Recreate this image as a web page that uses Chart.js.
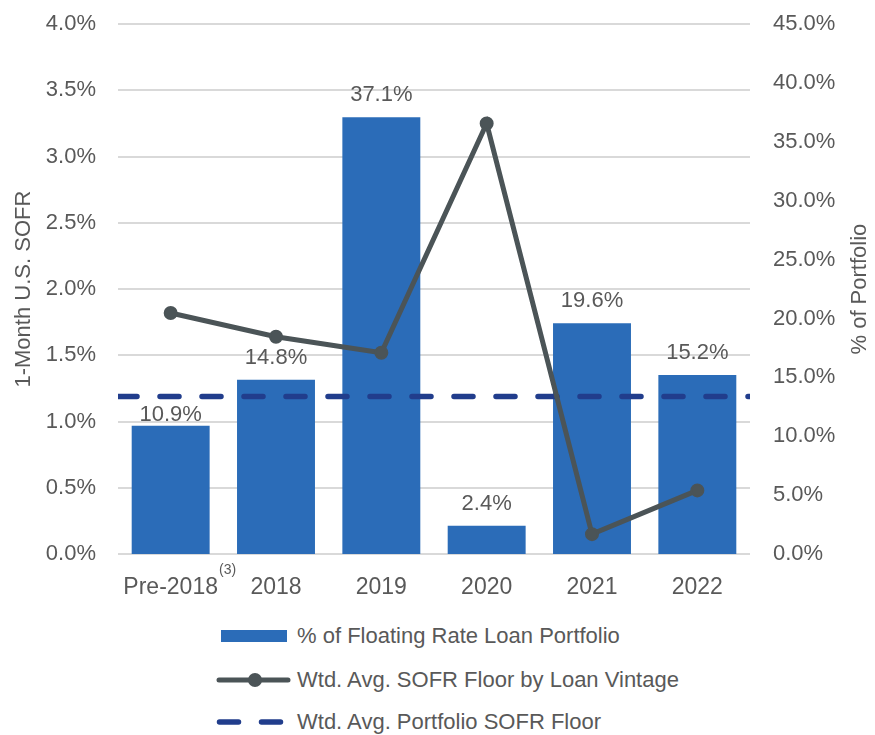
<!DOCTYPE html>
<html>
<head>
<meta charset="utf-8">
<script src="https://cdn.jsdelivr.net/npm/chart.js@4.4.1/dist/chart.umd.min.js"></script>
<style>
  body { margin: 0; background: #fff; overflow: hidden; font-family: "Liberation Sans", Arial, sans-serif; }
  .wrap { position: relative; width: 875px; height: 735px; overflow: hidden; }
  #myChart { position: absolute; left: 0; top: -12px; }
  .legend { position: absolute; left: 0; top: 0; width: 875px; color: #595959; font-size: 22px; }
  .legend .row { position: absolute; left: 215px; height: 30px; display: flex; align-items: center; white-space: nowrap; }
  .legend svg { margin-right: 6px; }
</style>
</head>
<body>
<div class="wrap">
  <canvas id="myChart" width="875" height="622"></canvas>
  <div class="legend">
    <div class="row" style="top:621px;">
      <svg width="76" height="30"><rect x="6" y="9" width="66" height="12" fill="#2b6cb8"/></svg>
      <span>% of Floating Rate Loan Portfolio</span>
    </div>
    <div class="row" style="top:665px;">
      <svg width="76" height="30"><line x1="4" y1="15" x2="73" y2="15" stroke="#4b5457" stroke-width="5" stroke-linecap="round"/><circle cx="40" cy="15" r="7" fill="#4b5457"/></svg>
      <span>Wtd. Avg. SOFR Floor by Loan Vintage</span>
    </div>
    <div class="row" style="top:707px;">
      <svg width="76" height="30"><line x1="4.5" y1="15" x2="73" y2="15" stroke="#213d8c" stroke-width="5.5" stroke-linecap="round" stroke-dasharray="19 23"/></svg>
      <span>Wtd. Avg. Portfolio SOFR Floor</span>
    </div>
  </div>
</div>
<script>
// 카테고리 (대출 빈티지)
var vintages = ["Pre-2018", "2018", "2019", "2020", "2021", "2022"];
// 변동금리 대출 포트폴리오 비중 (%)
var portfolioShare = [10.9, 14.8, 37.1, 2.4, 19.6, 15.2];
// 빈티지별 가중평균 SOFR floor (%)
var sofrFloor = [1.82, 1.64, 1.52, 3.25, 0.15, 0.48];
// 포트폴리오 전체 가중평균 SOFR floor (%)
var portfolioFloor = 1.19;

var leftTicks = [0, 0.5, 1, 1.5, 2, 2.5, 3, 3.5, 4];
var rightTicks = [0, 5, 10, 15, 20, 25, 30, 35, 40, 45];

var labelGap = [5, 16, 16, 16, 16, 16]; // 막대 라벨 간격
var grayText = "#595959";
var fontName = "'Liberation Sans', Arial, sans-serif";

var extras = {
  id: "extras",
  afterDatasetsDraw: function (chart) {
    var ctx = chart.ctx;
    var area = chart.chartArea;
    ctx.save();
    ctx.fillStyle = grayText;

    // 막대 위 값 라벨
    ctx.font = "22px " + fontName;
    ctx.textAlign = "center";
    ctx.textBaseline = "alphabetic";
    chart.getDatasetMeta(0).data.forEach(function (bar, i) {
      ctx.fillText(portfolioShare[i].toFixed(1) + "%", bar.x, bar.y - labelGap[i]);
    });

    // Pre-2018 위첨자 (3)
    var xs = chart.scales.x;
    ctx.font = "23px " + fontName;
    var w = ctx.measureText(vintages[0]).width;
    ctx.font = "14px " + fontName;
    ctx.textAlign = "left";
    ctx.textBaseline = "top";
    ctx.fillText("(3)", xs.getPixelForValue(0) + w / 2 + 1, area.bottom + 9);

    // 오른쪽 축 제목 (아래에서 위로)
    ctx.font = "22px " + fontName;
    ctx.textAlign = "center";
    ctx.textBaseline = "middle";
    ctx.translate(860, (area.top + area.bottom) / 2);
    ctx.rotate(-Math.PI / 2);
    ctx.fillText("% of Portfolio", 0, 0);
    ctx.restore();
  },
};

var ctx = document.getElementById("myChart").getContext("2d");

var myChart = new Chart(ctx, {
  data: {
    labels: vintages,
    datasets: [
      {
        type: "bar",
        label: "% of Floating Rate Loan Portfolio",
        data: portfolioShare,
        backgroundColor: "#2b6cb8",
        yAxisID: "yR",
        xAxisID: "x",
        grouped: false,
        categoryPercentage: 1,
        barPercentage: 0.74,
        order: 3,
      },
      {
        type: "line",
        label: "Wtd. Avg. Portfolio SOFR Floor",
        data: [
          { x: -0.5, y: portfolioFloor },
          { x: vintages.length - 0.5, y: portfolioFloor },
        ],
        borderColor: "#213d8c",
        borderWidth: 5.5,
        borderDash: [19, 23],
        borderCapStyle: "round",
        pointRadius: 0,
        yAxisID: "yL",
        xAxisID: "xd",
        order: 2,
      },
      {
        type: "line",
        label: "Wtd. Avg. SOFR Floor by Loan Vintage",
        data: sofrFloor,
        borderColor: "#4b5457",
        backgroundColor: "#4b5457",
        borderWidth: 5,
        pointRadius: 6,
        pointBorderWidth: 2,
        pointBackgroundColor: "#4b5457",
        yAxisID: "yL",
        xAxisID: "x",
        order: 1,
      },
    ],
  },
  options: {
    responsive: false,
    animation: false,
    layout: { padding: { top: 0, left: 0, right: 0, bottom: 0 } },
    plugins: {
      legend: { display: false },
      tooltip: { enabled: false },
    },
    scales: {
      x: {
        type: "category",
        offset: true,
        grid: { display: false, drawTicks: false },
        border: { display: false },
        ticks: { color: grayText, font: { family: fontName, size: 23 }, padding: 20 },
        afterFit: function (scale) { scale.height = 56; },
      },
      xd: {
        type: "linear",
        display: false,
        min: -0.5,
        max: vintages.length - 0.5,
      },
      yL: {
        position: "left",
        min: 0,
        max: 4,
        afterBuildTicks: function (scale) {
          scale.ticks = leftTicks.map(function (v) { return { value: v }; });
        },
        grid: { color: "#d9d9d9", lineWidth: 2, drawTicks: false },
        border: { display: false },
        ticks: {
          color: grayText,
          font: { family: fontName, size: 22 },
          padding: 22,
          callback: function (v) { return v.toFixed(1) + "%"; },
        },
        title: {
          display: true,
          text: "1-Month U.S. SOFR",
          color: grayText,
          font: { family: fontName, size: 22 },
          padding: { top: 11, bottom: 0 },
        },
        afterFit: function (scale) { scale.width = 118; },
      },
      yR: {
        position: "right",
        min: 0,
        max: 45,
        afterBuildTicks: function (scale) {
          scale.ticks = rightTicks.map(function (v) { return { value: v }; });
        },
        grid: { display: false, drawTicks: false },
        border: { display: false },
        ticks: {
          color: grayText,
          font: { family: fontName, size: 22 },
          padding: 23,
          callback: function (v) { return v.toFixed(1) + "%"; },
        },
        afterFit: function (scale) { scale.width = 125; },
      },
    },
  },
  plugins: [extras],
});
</script>
</body>
</html>
